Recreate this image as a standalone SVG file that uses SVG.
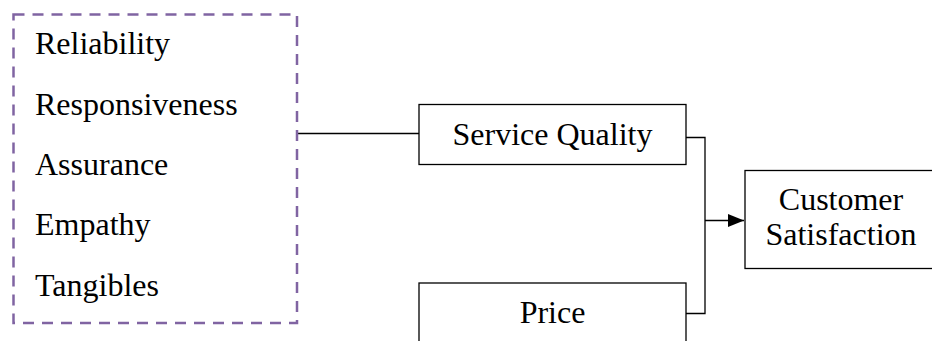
<svg xmlns="http://www.w3.org/2000/svg" width="932" height="341" viewBox="0 0 932 341">
<style>
text{font-family:"Liberation Serif","Times New Roman",serif;font-size:32px;fill:#000}
.box{fill:#fff;stroke:#000;stroke-width:1.3}
.ln{fill:none;stroke:#000;stroke-width:1.3}
.mid{text-anchor:middle}
</style>
<defs>
<marker id="arr" markerWidth="16" markerHeight="13" refX="16" refY="6.5" orient="auto" markerUnits="userSpaceOnUse">
<path d="M0,0 L16,6.5 L0,13 Z" fill="#000"/>
</marker>
</defs>
<g id="connectors">
<line class="ln" x1="297" y1="133.5" x2="419" y2="133.5"/>
<polyline class="ln" points="686,137.5 705,137.5 705,313.5 686,313.5"/>
<line class="ln" x1="705" y1="220.5" x2="744" y2="220.5" marker-end="url(#arr)"/>
</g>
<g id="dimensions">
<rect x="13.5" y="14.5" width="283.5" height="308.5" fill="none" stroke="#8064A2" stroke-width="2.5" stroke-dasharray="11 8"/>
<text x="35" y="54">Reliability</text>
<text x="35" y="114.5">Responsiveness</text>
<text x="35" y="175">Assurance</text>
<text x="35" y="235">Empathy</text>
<text x="35" y="296">Tangibles</text>
</g>
<g id="service-quality">
<rect class="box" x="419" y="104.5" width="267" height="60"/>
<text class="mid" x="552.5" y="145">Service Quality</text>
</g>
<g id="price">
<rect class="box" x="419" y="283" width="267" height="70"/>
<text class="mid" x="552.5" y="323">Price</text>
</g>
<g id="customer-satisfaction">
<rect class="box" x="745" y="170.5" width="200" height="98"/>
<text class="mid" x="841" y="210">Customer</text>
<text class="mid" x="841" y="245">Satisfaction</text>
</g>
</svg>
